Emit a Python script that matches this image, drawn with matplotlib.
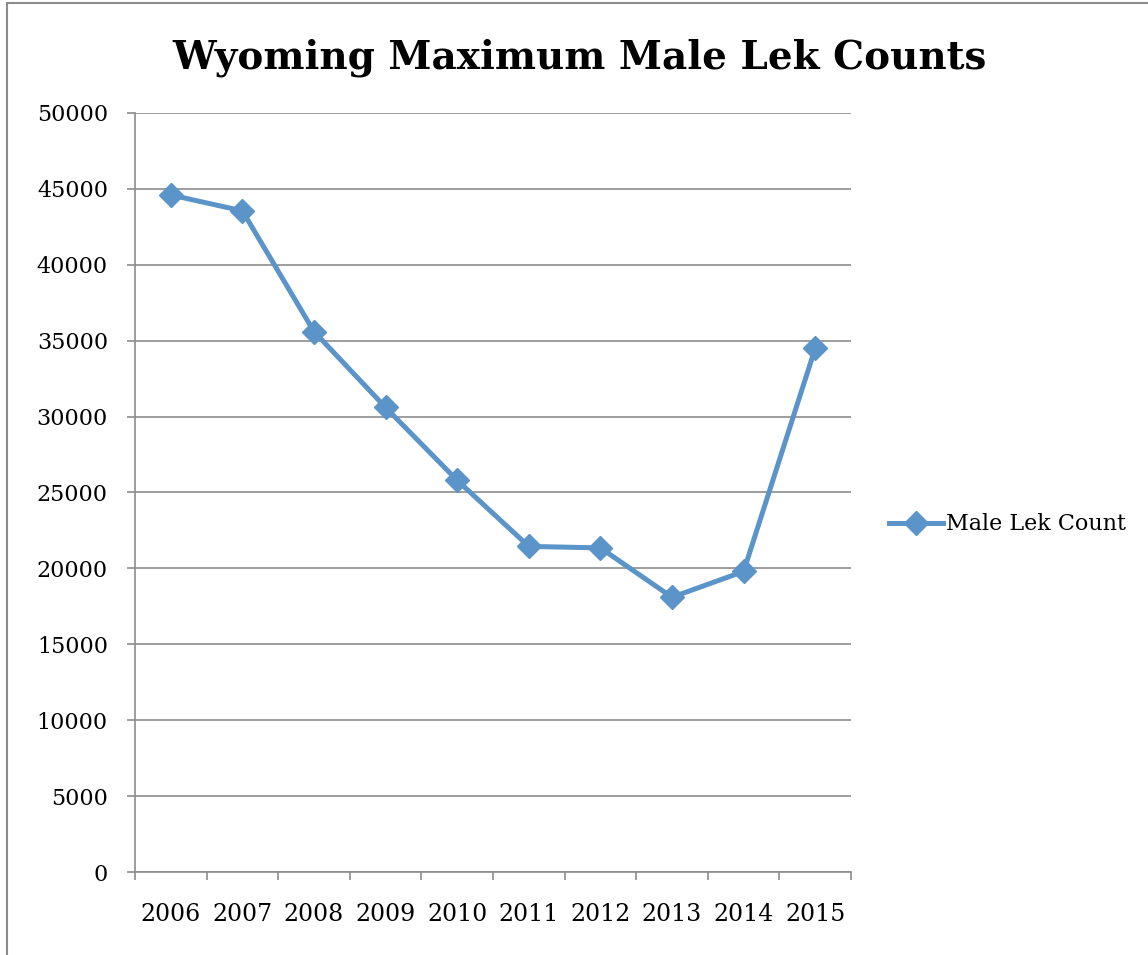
import numpy as np
import matplotlib.pyplot as plt
from matplotlib.patches import Rectangle

# data
years = ['2006', '2007', '2008', '2009', '2010', '2011', '2012', '2013', '2014', '2015']
lek_counts = [44600, 43550, 35600, 30600, 25800, 21450, 21350, 18100, 19800, 34500]
y_ticks = [0, 5000, 10000, 15000, 20000, 25000, 30000, 35000, 40000, 45000, 50000]

line_color = '#5b94c9'
grid_color = '#8c8c8c'

plt.rcParams['font.family'] = ['DejaVu Serif']

fig = plt.figure(figsize=(11.48, 9.55), dpi=100)
ax = fig.add_axes([0.1176, 0.0869, 0.6237, 0.7948])

x = np.arange(len(years))
ax.plot(x, lek_counts, color=line_color, linewidth=3.6, marker='D',
        markersize=12, markeredgecolor=line_color, label='Male Lek Count')

ax.set_xlim(-0.5, len(years) - 0.5)
ax.set_ylim(0, 50000)
ax.set_yticks(y_ticks)
ax.set_yticklabels([str(v) for v in y_ticks])
ax.yaxis.grid(True, color=grid_color, linewidth=1.2)
ax.set_axisbelow(True)

# category labels centered, tick marks on the boundaries
ax.set_xticks(x)
ax.set_xticklabels(years)
ax.set_xticks(np.arange(-0.5, len(years)), minor=True)
ax.tick_params(axis='x', which='major', length=0, pad=22, labelsize=17)
ax.tick_params(axis='x', which='minor', length=6, width=1.2, color=grid_color, direction='out')
ax.tick_params(axis='y', length=6, width=1.2, color=grid_color, pad=13.5, labelsize=16)

for side in ['top', 'right']:
    ax.spines[side].set_visible(False)
for side in ['left', 'bottom']:
    ax.spines[side].set_color(grid_color)
    ax.spines[side].set_linewidth(1.2)

fig.text(0.505, 0.94, 'Wyoming Maximum Male Lek Counts', ha='center', va='center',
         fontsize=28, fontweight='bold')

leg = ax.legend(loc='center left', bbox_to_anchor=(1.04, 0.458), frameon=False,
                fontsize=16, handlelength=2.45, handletextpad=0.15, borderaxespad=0)

# outer chart border (only left and top fall inside the picture)
fig.patches.append(Rectangle((7 / 1148, -0.1), 1.2, (955 - 3) / 955 + 0.1,
                             transform=fig.transFigure, fill=False,
                             edgecolor='#8c8c8c', linewidth=1.5))

plt.savefig('out.png', dpi=100)
